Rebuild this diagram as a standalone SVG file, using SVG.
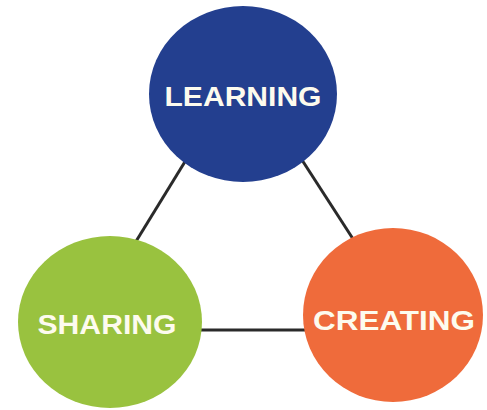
<svg xmlns="http://www.w3.org/2000/svg" width="487" height="410" viewBox="0 0 487 410">
  <style>
    .link { stroke: #2a2a2a; stroke-width: 3; fill: none; }
    .label { font-family: "Liberation Sans", Arial, sans-serif; font-weight: bold; font-size: 27px; fill: #fdfbee; text-anchor: middle; }
  </style>
  <rect width="487" height="410" fill="#ffffff"/>
  <!-- connectors between the three circles -->
  <g id="connectors">
    <line class="link" x1="186" y1="160" x2="135" y2="243"/>
    <line class="link" x1="302" y1="160" x2="355" y2="242"/>
    <line class="link" x1="200" y1="330" x2="306" y2="330"/>
  </g>
  <g id="learning">
    <ellipse cx="243" cy="94" rx="94" ry="88" fill="#233f8f"/>
    <text class="label" x="243" y="106" textLength="157" lengthAdjust="spacingAndGlyphs">LEARNING</text>
  </g>
  <g id="sharing">
    <ellipse cx="110" cy="322" rx="92" ry="86" fill="#99c23f"/>
    <text class="label" x="107" y="334" textLength="139" lengthAdjust="spacingAndGlyphs">SHARING</text>
  </g>
  <g id="creating">
    <ellipse cx="393" cy="315" rx="90" ry="87" fill="#ef6b3b"/>
    <text class="label" x="394" y="330" textLength="162" lengthAdjust="spacingAndGlyphs">CREATING</text>
  </g>
</svg>
